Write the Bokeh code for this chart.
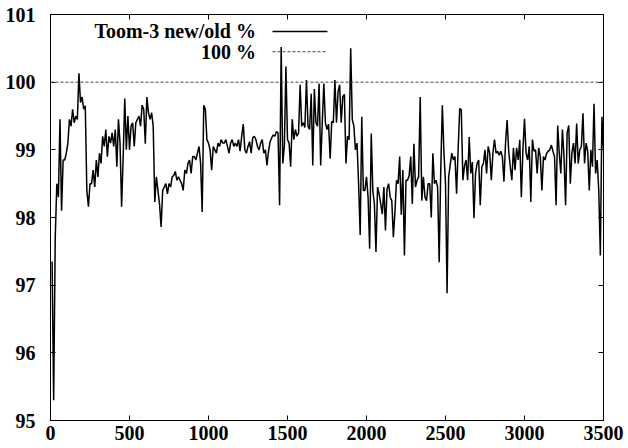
from bokeh.plotting import figure
from bokeh.models import (Range1d, LinearAxis, FixedTicker, Span, Label, Arrow,
                          CustomJSTickFormatter, ColumnDataSource)
from bokeh.embed import file_html
from bokeh.resources import INLINE

FONT = "Liberation Serif"

# sample positions (every 10 units, first sample at 10)
x_first = 10
x_step = 10

# Toom-3 new/old ratio in %, in six chunks
ratio_0010_0590 = [97.35, 95.3, 97.7, 98.5, 98.3, 99.45, 98.1, 98.85, 98.85, 98.95,
                   99.1, 99.45, 99.35, 99.6, 99.4, 99.5, 99.45, 100.13, 99.7, 99.78,
                   99.6, 99.65, 98.4, 98.16, 98.5, 98.5, 98.7, 98.45, 98.85, 98.6,
                   98.95, 98.8, 99.2, 99.05, 99.3, 98.9, 99.2, 99.1, 99.25, 99.05,
                   99.3, 98.75, 99.45, 99.1, 98.16, 98.9, 99.76, 99.0, 99.5, 99.0,
                   99.35, 99.4, 99.05, 99.4, 99.45, 99.5, 99.35, 99.66, 99.6]
ratio_0600_1160 = [99.09, 99.78, 99.55, 99.45, 99.55, 99.35, 98.23, 98.6, 98.4, 98.2,
                   97.86, 98.4, 98.45, 98.5, 98.35, 98.5, 98.45, 98.6, 98.62, 98.68,
                   98.55, 98.6, 98.55, 98.5, 98.4, 98.7, 98.65, 98.8, 98.85, 98.65,
                   98.9, 98.9, 98.85, 98.95, 99.05, 98.8, 98.08, 99.66, 99.6, 99.15,
                   99.1, 99.0, 98.7, 99.05, 99.0, 98.95, 99.1, 99.05, 99.15, 99.1,
                   99.1, 99.15, 99.05, 98.95, 99.1, 99.15, 99.05]
ratio_1170_1730 = [99.1, 99.05, 99.15, 98.98, 99.2, 99.38, 99.0, 98.95, 99.05, 99.12,
                   98.95, 99.18, 99.2, 99.15, 99.05, 99.0, 99.1, 99.15, 98.95, 99.0,
                   98.77, 98.98, 99.12, 99.18, 99.22, 99.2, 99.27, 99.25, 98.18, 100.52,
                   98.8, 99.05, 100.23, 99.15, 99.1, 98.75, 99.45, 99.15, 99.3, 99.2,
                   99.25, 99.96, 99.35, 99.4, 99.33, 100.03, 99.35, 99.3, 99.83, 98.77,
                   99.9, 99.4, 99.35, 99.98, 98.77, 99.4, 99.98]
ratio_1740_2340 = [99.4, 99.3, 99.38, 98.87, 99.42, 99.4, 100.03, 99.4, 99.86, 99.96,
                   99.4, 99.79, 99.82, 98.8, 99.2, 99.15, 100.5, 99.45, 99.35, 99.0,
                   99.1, 98.5, 97.74, 99.49, 98.4, 98.4, 98.6, 98.3, 97.54, 99.24,
                   98.4, 98.2, 97.49, 98.45, 98.35, 98.2, 98.05, 98.45, 97.81, 98.42,
                   98.5, 98.3, 98.25, 97.71, 98.08, 98.55, 98.5, 98.9, 98.04, 98.7,
                   97.44, 98.55, 98.55, 98.62, 98.9, 98.2, 99.09, 98.45, 98.55, 98.6,
                   99.78]
ratio_2350_2910 = [98.25, 98.6, 98.3, 98.25, 98.5, 98.5, 98.0, 98.95, 98.5, 98.55,
                   98.45, 97.34, 98.7, 99.66, 98.97, 98.5, 96.88, 98.6, 98.78, 98.95,
                   98.85, 98.9, 98.35, 99.0, 99.61, 99.59, 98.55, 98.76, 98.85, 98.55,
                   99.19, 98.65, 98.82, 97.99, 98.65, 98.8, 98.85, 98.18, 98.75, 98.8,
                   99.0, 98.65, 99.05, 98.95, 98.55, 98.95, 99.15, 98.95, 98.98, 98.92,
                   98.98, 98.9, 98.53, 99.1, 99.44, 98.98, 98.75]
ratio_2920_3500 = [98.55, 99.03, 98.7, 99.03, 98.85, 99.15, 98.3, 99.0, 99.46, 98.95,
                   98.85, 99.05, 98.23, 99.15, 98.98, 99.0, 98.65, 99.03, 98.9, 98.4,
                   98.9, 98.85, 98.95, 98.98, 99.0, 99.07, 98.98, 98.9, 98.18, 99.36,
                   98.95, 98.65, 99.3, 98.9, 98.18, 99.25, 99.36, 98.5, 98.95, 99.1,
                   98.8, 99.39, 98.8, 99.0, 99.05, 99.54, 98.8, 99.1, 98.98, 98.4,
                   99.0, 98.75, 99.68, 98.65, 98.85, 98.4, 97.44, 99.49, 98.99]

ratio = (ratio_0010_0590 + ratio_0600_1160 + ratio_1170_1730 +
         ratio_1740_2340 + ratio_2350_2910 + ratio_2920_3500)
sizes = list(range(x_first, x_first + x_step * len(ratio), x_step))

reference_level = 100
x_ticks = [0, 500, 1000, 1500, 2000, 2500, 3000, 3500]
y_ticks = [95, 96, 97, 98, 99, 100, 101]

legend_labels = ["Toom-3 new/old %", "100 %"]

src = ColumnDataSource(data=dict(x=sizes, y=ratio))

p = figure(width=628, height=448,
           x_range=Range1d(0, 3500), y_range=Range1d(95, 101),
           output_backend="svg", toolbar_location=None,
           min_border_left=50, min_border_right=25,
           min_border_top=14, min_border_bottom=28)
p.grid.visible = False
p.outline_line_color = "black"
p.outline_line_width = 1
p.background_fill_color = "white"
p.border_fill_color = "white"


def style_axis(ax, labels=True):
    ax.major_tick_in = 5
    ax.major_tick_out = 0
    ax.minor_tick_line_color = None
    ax.axis_line_color = "black"
    ax.major_tick_line_color = "black"
    ax.major_label_text_font = FONT
    ax.major_label_text_font_style = "bold"
    ax.major_label_text_font_size = "20px"
    ax.major_label_text_color = "black"
    if not labels:
        ax.formatter = CustomJSTickFormatter(code="return ''")
        ax.major_label_text_font_size = "1px"
        ax.major_label_standoff = 0


p.xaxis.ticker = FixedTicker(ticks=x_ticks)
p.yaxis.ticker = FixedTicker(ticks=y_ticks)
style_axis(p.xaxis[0])
style_axis(p.yaxis[0])
p.xaxis.major_label_standoff = 5
p.yaxis.major_label_standoff = 15

top = LinearAxis(ticker=FixedTicker(ticks=x_ticks))
style_axis(top, labels=False)
p.add_layout(top, "above")
right = LinearAxis(ticker=FixedTicker(ticks=y_ticks))
style_axis(right, labels=False)
p.add_layout(right, "right")

# 100 % reference line
p.add_layout(Span(location=reference_level, dimension="width",
                  line_color="#444444", line_width=1, line_dash="3 2"))

# data line
p.line("x", "y", source=src, line_color="black", line_width=1.5)

# gnuplot-style key (text on the left, sample on the right)
key_text_x = 1300
key_sample_x0, key_sample_x1 = 1405, 1753
key_rows_y = [100.75, 100.45]
for lab, yy in zip(legend_labels, key_rows_y):
    p.add_layout(Label(x=key_text_x, y=yy, text=lab, text_align="right",
                       text_baseline="middle", text_font=FONT,
                       text_font_style="bold", text_font_size="20px",
                       text_color="black"))
p.add_layout(Arrow(end=None, x_start=key_sample_x0, y_start=key_rows_y[0],
                   x_end=key_sample_x1, y_end=key_rows_y[0],
                   line_color="black", line_width=1.5))
p.add_layout(Arrow(end=None, x_start=key_sample_x0, y_start=key_rows_y[1],
                   x_end=key_sample_x1, y_end=key_rows_y[1],
                   line_color="#444444", line_width=1, line_dash="3 2"))

open("out.html", "w").write(file_html(p, INLINE))
